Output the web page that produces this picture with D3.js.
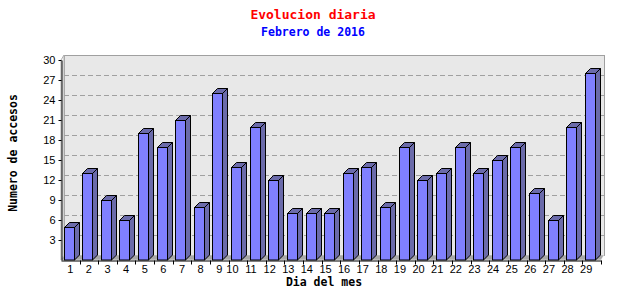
<!DOCTYPE html>
<html>
  <head>
    <meta charset="utf-8" />
    <title>Evolucion diaria</title>
    <script src="https://d3js.org/d3.v7.min.js"></script>
    <style>
      body { margin: 0; background: #fff; }
    </style>
  </head>
  <body>
    <div id="chart"></div>
    <script>
      // data
      var days = d3.range(1, 30).map(String);
      var accesos = [5, 13, 9, 6, 19, 17, 21, 8, 25, 14, 20, 12, 7, 7, 7, 13, 14, 8, 17, 12, 13, 17, 13, 15, 17, 10, 6, 20, 28];
      var yTicks = [3, 6, 9, 12, 15, 18, 21, 24, 27, 30];

      var width = 640,
        height = 300;
      var pLeft = 61, pRight = 601, pBottom = 260, pTop = 60;
      var dx = 3, dy = -5; // wall depth
      var bdx = 5, bdy = -5; // bar depth

      var svg = d3.select("#chart").append("svg")
        .attr("width", width)
        .attr("height", height);

      var x = d3.scaleBand().domain(days).range([pLeft, pRight]).padding(0);
      var y = d3.scaleLinear().domain([0, 30]).range([pBottom, pTop]);

      // back wall
      svg.append("rect")
        .attr("x", pLeft + dx + 0.5).attr("y", pTop + dy + 0.5)
        .attr("width", pRight - pLeft).attr("height", pBottom - pTop)
        .attr("fill", "#e8e8e8").attr("stroke", "#a0a0a0");

      // left wall
      svg.append("polygon")
        .attr("points", [[pLeft, pTop], [pLeft + dx, pTop + dy], [pLeft + dx, pBottom + dy], [pLeft, pBottom]].join(" "))
        .attr("fill", "#f2f2f2").attr("stroke", "#b0b0b0");

      // grid lines on the back wall
      svg.append("g").selectAll("line")
        .data(yTicks.slice(0, -1))
        .enter().append("line")
        .attr("x1", pLeft + dx).attr("x2", pRight + dx)
        .attr("y1", function (d) { return Math.round(y(d)) + dy + 0.5; })
        .attr("y2", function (d) { return Math.round(y(d)) + dy + 0.5; })
        .attr("stroke", "#a0a0a0")
        .attr("stroke-dasharray", "5,3");

      // floor
      svg.append("polygon")
        .attr("points", [[pLeft, pBottom], [pLeft + dx, pBottom + dy], [pRight + dx, pBottom + dy], [pRight, pBottom]].join(" "))
        .attr("fill", "#a8a8a8").attr("stroke", "#f0f0f0").attr("stroke-width", 0.5);

      // bars
      var bw = 10;
      var bars = svg.append("g").selectAll("g")
        .data(accesos)
        .enter().append("g");

      function bx(i) { return Math.round(x(days[i]) + 2.5) + 0.5; }
      function by(d) { return Math.round(y(d)) + 0.5; }

      bars.append("polygon")
        .attr("points", function (d, i) {
          var x0 = bx(i) + bw, y0 = by(d);
          return [[x0, y0], [x0 + bdx, y0 + bdy], [x0 + bdx, pBottom + bdy], [x0, pBottom]].join(" ");
        })
        .attr("fill", "#6b6baa").attr("stroke", "#000");

      bars.append("polygon")
        .attr("points", function (d, i) {
          var x0 = bx(i), y0 = by(d);
          return [[x0, y0], [x0 + bdx, y0 + bdy], [x0 + bw + bdx, y0 + bdy], [x0 + bw, y0]].join(" ");
        })
        .attr("fill", "#6b6baa").attr("stroke", "#000");

      bars.append("rect")
        .attr("x", function (d, i) { return bx(i); })
        .attr("y", function (d) { return by(d); })
        .attr("width", bw)
        .attr("height", function (d) { return pBottom - by(d); })
        .attr("fill", "#8080ff").attr("stroke", "#000");

      // y axis
      var yAxis = svg.append("g")
        .attr("transform", "translate(" + (pLeft + 0.5) + ",0)")
        .call(d3.axisLeft(y).tickValues(yTicks).tickSize(3).tickSizeOuter(0).tickPadding(3));
      yAxis.selectAll("text")
        .attr("font-family", "Liberation Sans, Arial, sans-serif")
        .attr("font-size", 11).attr("fill", "#000");

      // x axis: labels at band centres, ticks at band edges
      var xAxis = svg.append("g")
        .attr("transform", "translate(0," + (pBottom + 0.5) + ")")
        .call(d3.axisBottom(x).tickSize(0).tickSizeOuter(0).tickPadding(5));
      xAxis.selectAll("text")
        .attr("font-family", "Liberation Sans, Arial, sans-serif")
        .attr("font-size", 11).attr("fill", "#000")
        .attr("dx", function (d) { return d.length > 1 ? -5.5 : 0; });
      xAxis.selectAll(".edge")
        .data(days)
        .enter().append("line")
        .attr("class", "edge")
        .attr("x1", function (d) { return Math.round(x(d) + x.bandwidth()) + 0.5; })
        .attr("x2", function (d) { return Math.round(x(d) + x.bandwidth()) + 0.5; })
        .attr("y1", 0).attr("y2", 4)
        .attr("stroke", "#000");

      // titles
      var mono = "DejaVu Sans Mono, Liberation Mono, monospace";
      svg.append("text")
        .attr("x", 313).attr("y", 19)
        .attr("text-anchor", "middle")
        .attr("font-family", mono).attr("font-weight", "bold").attr("font-size", 13)
        .attr("fill", "#ff0000")
        .text("Evolucion diaria");

      svg.append("text")
        .attr("x", 313).attr("y", 36)
        .attr("text-anchor", "middle")
        .attr("font-family", mono).attr("font-weight", "bold").attr("font-size", 11.5)
        .attr("fill", "#0000ff")
        .text("Febrero de 2016");

      svg.append("text")
        .attr("x", 324).attr("y", 286)
        .attr("text-anchor", "middle")
        .attr("font-family", mono).attr("font-weight", "bold").attr("font-size", 11.5)
        .attr("fill", "#000")
        .text("Dia del mes");

      svg.append("text")
        .attr("transform", "translate(17,153) rotate(-90)")
        .attr("text-anchor", "middle")
        .attr("font-family", mono).attr("font-weight", "bold").attr("font-size", 11.5)
        .attr("fill", "#000")
        .text("Numero de accesos");
    </script>
  </body>
</html>
